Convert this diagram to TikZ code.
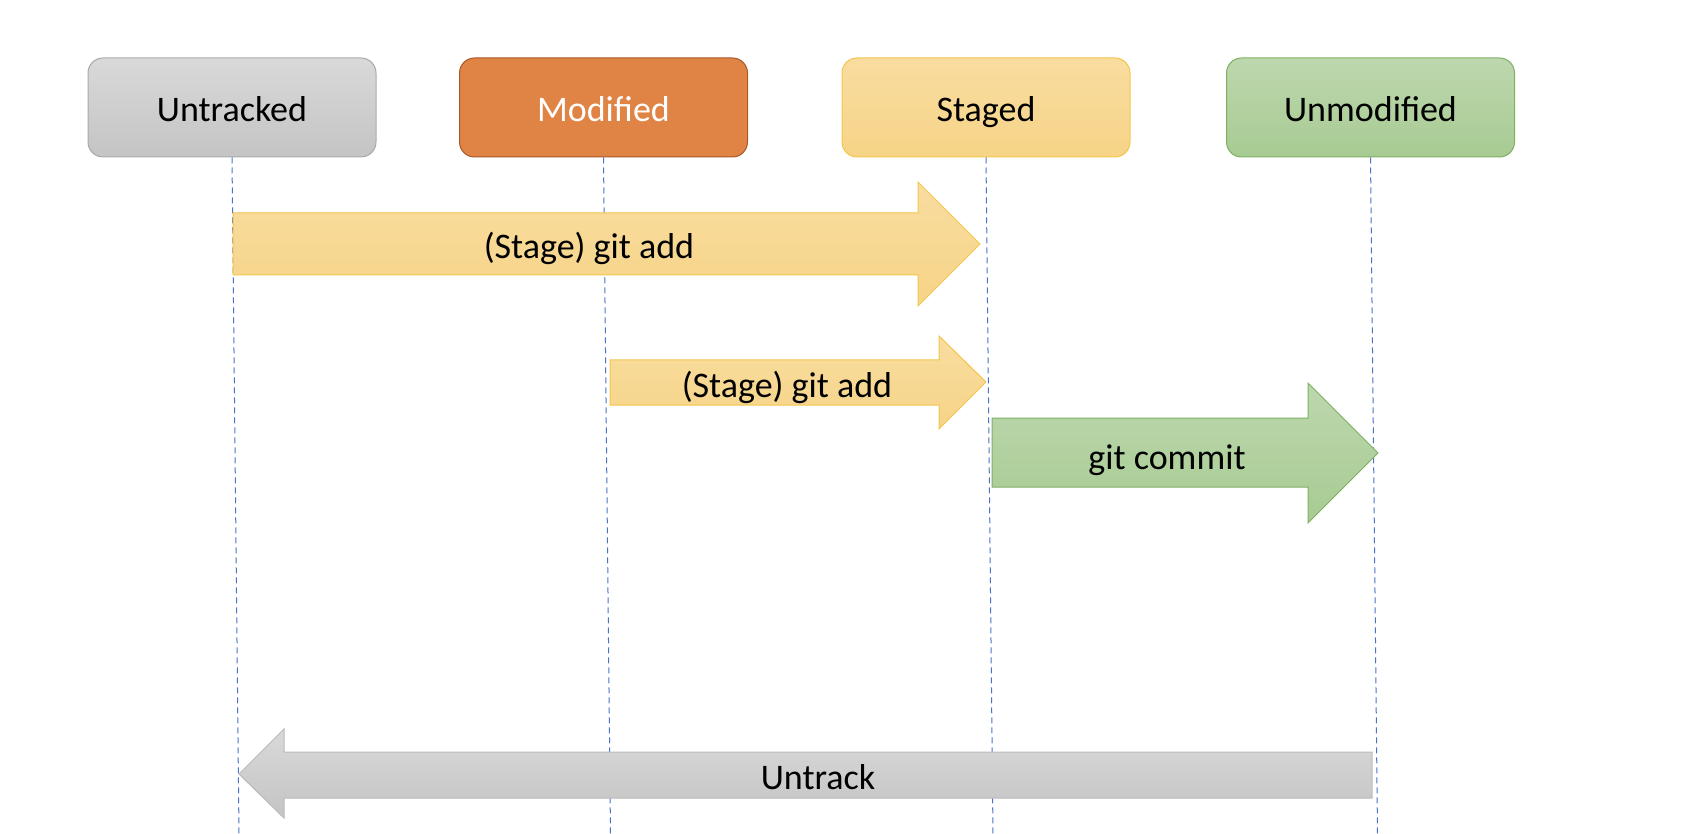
\documentclass[tikz,border=0pt]{standalone}
\usepackage{fontspec}
\setmainfont{Carlito}
\usetikzlibrary{positioning}

\definecolor{graytop}{HTML}{D9D9D9}
\definecolor{graybot}{HTML}{C4C4C4}
\definecolor{grayline}{HTML}{A9A9A9}
\definecolor{orangefill}{HTML}{E08445}
\definecolor{orangeline}{HTML}{A9582A}
\definecolor{yellowtop}{HTML}{F9DDA0}
\definecolor{yellowbot}{HTML}{F6D487}
\definecolor{yellowline}{HTML}{F4C54D}
\definecolor{greentop}{HTML}{BDD7AE}
\definecolor{greenbot}{HTML}{A7CB92}
\definecolor{greenline}{HTML}{7FB062}
\definecolor{lifeblue}{HTML}{4A72C8}

\tikzset{
  state/.style={rounded corners=7.5pt, minimum width=144pt, minimum height=49.5pt,
    line width=0.5pt, font=\fontsize{18}{21}\selectfont, text height=15pt, text depth=1pt},
  lifeline/.style={lifeblue, line width=0.5pt, dash pattern=on 3pt off 2pt},
  blockarrow/.style={line width=0.5pt},
  arrowlabel/.style={font=\fontsize{18}{21}\selectfont, text height=15pt, text depth=1pt}
}

\begin{document}
\begin{tikzpicture}[x=0.5pt,y=-0.5pt]
  \useasboundingbox (0,0) rectangle (1698,834);
  % States
  \node[state, draw=grayline, top color=graytop, bottom color=graybot] (untracked) at (232,107.5) {Untracked};
  \node[state, draw=orangeline, fill=orangefill, text=white] (modified) at (603.5,107.5) {Modified};
  \node[state, draw=yellowline, top color=yellowtop, bottom color=yellowbot] (staged) at (986,107.5) {Staged};
  \node[state, draw=greenline, top color=greentop, bottom color=greenbot] (unmodified) at (1370.5,107.5) {Unmodified};
  % Lifelines (slightly leaning)
  \draw[lifeline] (untracked.south) -- ++(7,677);
  \draw[lifeline] (modified.south) -- ++(7,677);
  \draw[lifeline] (staged.south) -- ++(7,677);
  \draw[lifeline] (unmodified.south) -- ++(7,677);
  % Untracked -> Staged
  \draw[blockarrow, draw=yellowline, top color=yellowtop, bottom color=yellowbot]
    (233,213) -- (918,213) -- (918,182) -- (980,244) -- (918,306) -- (918,275) -- (233,275) -- cycle;
  \node[arrowlabel] (addone) at (589,245) {(Stage) git add};
  % Modified -> Staged
  \draw[blockarrow, draw=yellowline, top color=yellowtop, bottom color=yellowbot]
    (610,360) -- (939,360) -- (939,336) -- (986,382) -- (939,429) -- (939,405) -- (610,405) -- cycle;
  \node[arrowlabel] (addtwo) at (787,383) {(Stage) git add};
  % Staged -> Unmodified
  \draw[blockarrow, draw=greenline, top color=greentop, bottom color=greenbot]
    (992,418) -- (1308,418) -- (1308,383) -- (1378,453) -- (1308,523) -- (1308,487) -- (992,487) -- cycle;
  \node[arrowlabel] (commit) at (1167,455) {git commit};
  % Unmodified -> Untracked
  \draw[blockarrow, draw=grayline!80, top color=graytop, bottom color=graybot]
    (1372,752) -- (284,752) -- (284,729) -- (239,774) -- (284,818) -- (284,798) -- (1372,798) -- cycle;
  \node[arrowlabel] (untrack) at (818,775) {Untrack};
\end{tikzpicture}
\end{document}
